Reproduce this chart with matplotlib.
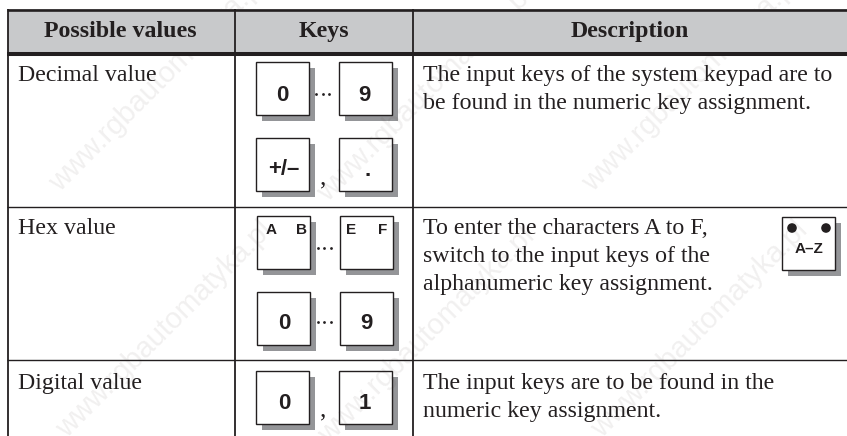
import matplotlib
matplotlib.use("Agg")
import matplotlib.pyplot as plt
from matplotlib.patches import Rectangle, Circle

W, H = 847, 436

headers = ["Possible values", "Keys", "Description"]
row_names = ["Decimal value", "Hex value", "Digital value"]
descriptions = [
    ["The input keys of the system keypad are to", "be found in the numeric key assignment."],
    ["To enter the characters A to F,", "switch to the input keys of the", "alphanumeric key assignment."],
    ["The input keys are to be found in the", "numeric key assignment."],
]
key_boxes = [(255.5, 62), (338.7, 62), (255.5, 138), (338.7, 138),
             (257, 216.3), (340.3, 216.3), (257, 292), (340.3, 292),
             (255.5, 370.7), (338.7, 370.7)]
# label, centre x, baseline y
key_labels = [("0", 282.7, 100.7), ("9", 364.5, 100.7), ("+/\u2013", 284, 174.5), (".", 367.7, 175.5),
              ("0", 284.3, 328.7), ("9", 366, 328.7), ("0", 284.3, 408.7), ("1", 365, 408.7)]
corner_labels = [("A", 270.7), ("B", 301.7), ("E", 350.7), ("F", 383)]
ellipses = [(94.3, 316), (248.3, 317.7), (322, 317.7)]
commas = [(323.5, 184), (323.5, 416)]
watermark = "www.rgbautomatyka.pl"
wm_positions = [(158, 84), (426, 94), (691, 84), (165, 330), (427, 336), (700, 330)]

SERIF = "Liberation Serif"
SANS = "Liberation Sans"
dark = "#231f20"

fig = plt.figure(figsize=(W / 100, H / 100), dpi=100)
ax = fig.add_axes([0, 0, 1, 1])
ax.set_xlim(0, W)
ax.set_ylim(H, 0)
ax.axis("off")

for wx, wy in wm_positions:
    t = ax.text(wx, wy, watermark, fontsize=21, family=SANS, color="#3a2a20", alpha=0.07,
                rotation=45, ha="center", va="center", zorder=3.5)

# header band
ax.add_patch(Rectangle((8, 9), W - 8, 44, fc="#c8c9cb", ec="none", zorder=3.6))

ax.plot([7, W], [9.6, 9.6], color=dark, lw=1.9, zorder=3.7, solid_capstyle="butt")
ax.plot([7, W], [53.7, 53.7], color=dark, lw=2.9, zorder=3.7, solid_capstyle="butt")
for y in (206.7, 360.3):
    ax.plot([7, W], [y, y], color=dark, lw=1.0, zorder=3.7, solid_capstyle="butt")
for x in (8.3, 235.3, 413):
    ax.plot([x, x], [8.6, H], color=dark, lw=1.3, zorder=3.7, solid_capstyle="butt")

for label, cx in zip(headers, (120, 324, 630)):
    ax.text(cx, 36.7, label, family=SERIF, weight="bold", fontsize=17.2, color=dark,
            ha="center", va="baseline", zorder=4)

for name, y in zip(row_names, (81, 234, 389)):
    ax.text(18, y, name, family=SERIF, fontsize=17.2, color=dark, va="baseline", zorder=4)

for lines, y0 in zip(descriptions, (81, 234, 389)):
    for i, s in enumerate(lines):
        ax.text(423, y0 + i * 28.2, s, family=SERIF, fontsize=17.2, color=dark,
                va="baseline", zorder=4)


def key(x, y, size=53, shadow=6):
    ax.add_patch(Rectangle((x + shadow, y + shadow), size, size, fc="#949598", ec="none", zorder=2))
    ax.add_patch(Rectangle((x, y), size, size, fc="white", ec=dark, lw=1.0, zorder=3))


for x, y in key_boxes:
    key(x, y)

for label, cx, by in key_labels:
    ax.text(cx, by, label, family=SANS, weight="bold", fontsize=16, color=dark,
            ha="center", va="baseline", zorder=4)

for label, cx in corner_labels:
    ax.text(cx, 233.5, label, family=SANS, weight="bold", fontsize=11, color=dark,
            ha="center", va="baseline", zorder=4)

for y, x0 in ellipses:
    ax.scatter([x0, x0 + 6.6, x0 + 13.2], [y, y, y], s=4, color=dark, linewidths=0, zorder=4)

for x, y in commas:
    ax.text(x, y, ",", family=SERIF, fontsize=18, color=dark, ha="center", va="baseline", zorder=4)

# A-Z keypad switch key
key(781.7, 217.3, size=53, shadow=6)
ax.add_patch(Circle((792, 228), 4.8, fc=dark, ec="none", zorder=4))
ax.add_patch(Circle((826, 228), 4.8, fc=dark, ec="none", zorder=4))
ax.text(809, 253, "A\u2013Z", family=SANS, weight="bold", fontsize=11, color=dark,
        ha="center", va="baseline", zorder=4)

fig.savefig("out.png", dpi=100)
